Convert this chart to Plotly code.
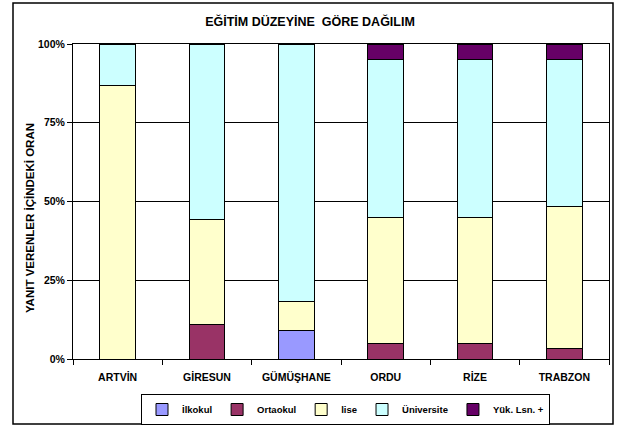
import plotly.graph_objects as go

# Provinces and share of respondents (%) by education level
iller = ['ARTVİN', 'GİRESUN', 'GÜMÜŞHANE', 'ORDU', 'RİZE', 'TRABZON']
ilkokul = [0, 0, 9.1, 0, 0, 0]
ortaokul = [0, 11.1, 0, 5.0, 5.0, 3.2]
lise = [86.7, 33.3, 9.1, 40.0, 40.0, 45.2]
universite = [13.3, 55.6, 81.8, 50.0, 50.0, 46.6]
yuksek = [0, 0, 0, 5.0, 5.0, 5.0]

seri_adlari = ['İlkokul', 'Ortaokul', 'lise', 'Üniversite', 'Yük. Lsn. +']
seri_degerleri = [ilkokul, ortaokul, lise, universite, yuksek]
renkler = ['#9999FF', '#993366', '#FFFFCC', '#CCFFFF', '#660066']

y_tick_vals = [0, 25, 50, 75, 100]
y_tick_text = ['0%', '25%', '50%', '75%', '100%']

FONT = 'Arial, Liberation Sans, sans-serif'

W, H = 619, 433
L, T, R, B = 73, 44, 10, 74
PW, PH = W - L - R, H - T - B


def px_x(x):
    # pixel column -> paper x
    return (x - L) / PW


def px_y(y):
    # pixel row -> paper y
    return (H - B - y) / PH


fig = go.Figure()
for ad, degerler, renk in zip(seri_adlari, seri_degerleri, renkler):
    fig.add_trace(go.Bar(
        x=iller, y=degerler, name='<b>%s</b>' % ad, width=0.4,
        marker=dict(color=renk, line=dict(color='black', width=1)),
    ))

fig.update_layout(
    barmode='stack',
    width=W, height=H,
    margin=dict(l=L, r=R, t=T, b=B, autoexpand=False),
    paper_bgcolor='white', plot_bgcolor='white',
    font=dict(family=FONT, color='black'),
    title=dict(text='<b>EĞİTİM DÜZEYİNE  GÖRE DAĞILIM</b>',
               x=px_x(310), xref='paper', xanchor='center',
               y=1 - 22 / H, yanchor='middle',
               font=dict(size=12.5, family=FONT)),
    showlegend=True,
    legend=dict(orientation='h', x=px_x(141), xanchor='left',
                y=px_y(425), yanchor='bottom',
                bordercolor='black', borderwidth=1, bgcolor='white',
                font=dict(size=9.5, family=FONT),
                itemwidth=30, traceorder='normal'),
)

fig.update_xaxes(
    showline=True, linecolor='black', linewidth=1, mirror=True,
    ticks='outside', tickson='boundaries', ticklen=5, tickcolor='black',
    tickfont=dict(size=10.5, family=FONT), ticklabelstandoff=8,
    tickvals=iller, ticktext=['<b>%s</b>' % i for i in iller],
    showgrid=False,
)
fig.update_yaxes(
    range=[0, 100], tickvals=y_tick_vals,
    ticktext=['<b>%s</b>' % t for t in y_tick_text],
    tickfont=dict(size=10.5, family=FONT),
    showline=True, linecolor='black', linewidth=1, mirror=True,
    ticks='outside', ticklen=5, tickcolor='black',
    showgrid=True, gridcolor='black', gridwidth=1,
)

# y axis title, placed where the original sits
fig.add_annotation(text='<b>YANIT VERENLER İÇİNDEKİ ORAN</b>', textangle=-90,
                   xref='paper', yref='paper', x=px_x(30), y=px_y(218),
                   xanchor='center', yanchor='middle', showarrow=False,
                   font=dict(size=11.5, family=FONT))

# outer chart border
fig.add_shape(type='rect', xref='paper', yref='paper',
              x0=px_x(13), x1=px_x(613), y0=px_y(424), y1=px_y(3),
              line=dict(color='black', width=1.5), layer='below')

# drop the page's default body margin so the chart fills the window
fig.write_html("out.html", config={'displayModeBar': False},
               post_script="document.body.style.margin='0';")
